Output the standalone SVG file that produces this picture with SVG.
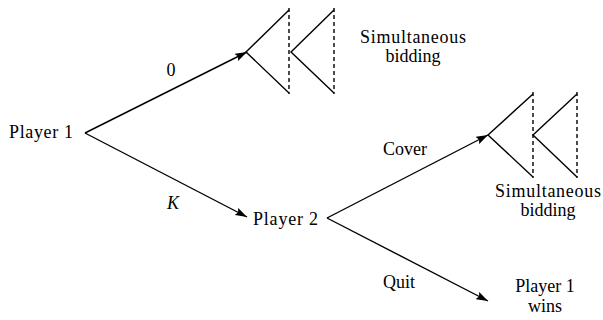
<svg xmlns="http://www.w3.org/2000/svg" width="603" height="320" viewBox="0 0 603 320">
<style>
text{fill:#000}
.m{text-anchor:middle}
.e{stroke:#000;stroke-width:1.4;fill:none}
.d{stroke:#000;stroke-width:1.4;fill:none;stroke-dasharray:4,3}
</style>
<defs>
<marker id="ah" viewBox="0 0 12 8" refX="12" refY="4" markerWidth="12" markerHeight="8" markerUnits="userSpaceOnUse" orient="auto">
<path d="M0,0 L12,4 L0,8 L2,4 Z" fill="#000"/>
</marker>
</defs>
<rect width="603" height="320" fill="#fff"/>
<g font-family="Liberation Serif, Times New Roman, serif" font-size="18">
<g id="connectors">
<line class="e" x1="85" y1="133" x2="247" y2="52" marker-end="url(#ah)"/>
<line class="e" x1="85" y1="133" x2="247" y2="217" marker-end="url(#ah)"/>
<line class="e" x1="327" y1="218" x2="488" y2="135" marker-end="url(#ah)"/>
<line class="e" x1="327" y1="218" x2="488" y2="301" marker-end="url(#ah)"/>
<text x="171" y="76" class="m">0</text>
<text x="173" y="209" class="m" font-style="italic">K</text>
<text x="405" y="155" class="m">Cover</text>
<text x="399" y="288" class="m">Quit</text>
</g>
<g id="player1">
<text x="9" y="138" textLength="64">Player 1</text>
</g>
<g id="player2">
<text x="253" y="225" textLength="65">Player 2</text>
</g>
<g id="bidding-top">
<path class="e" d="M289,10 L246,52 L289,93"/>
<line class="d" x1="289" y1="8" x2="289" y2="94"/>
<path class="e" d="M334,10 L291,52 L334,93"/>
<line class="d" x1="334" y1="8" x2="334" y2="94"/>
<text x="413" y="43" class="m" textLength="106">Simultaneous</text>
<text x="413" y="62" class="m">bidding</text>
</g>
<g id="bidding-bottom">
<path class="e" d="M533,94 L488,135 L533,177"/>
<line class="d" x1="533" y1="92" x2="533" y2="178"/>
<path class="e" d="M577,94 L533,135 L577,177"/>
<line class="d" x1="577" y1="92" x2="577" y2="178"/>
<text x="548" y="197" class="m" textLength="106">Simultaneous</text>
<text x="548" y="216" class="m">bidding</text>
</g>
<g id="player1-wins">
<text x="545" y="292" class="m">Player 1</text>
<text x="545" y="312" class="m">wins</text>
</g>
</g>
</svg>
